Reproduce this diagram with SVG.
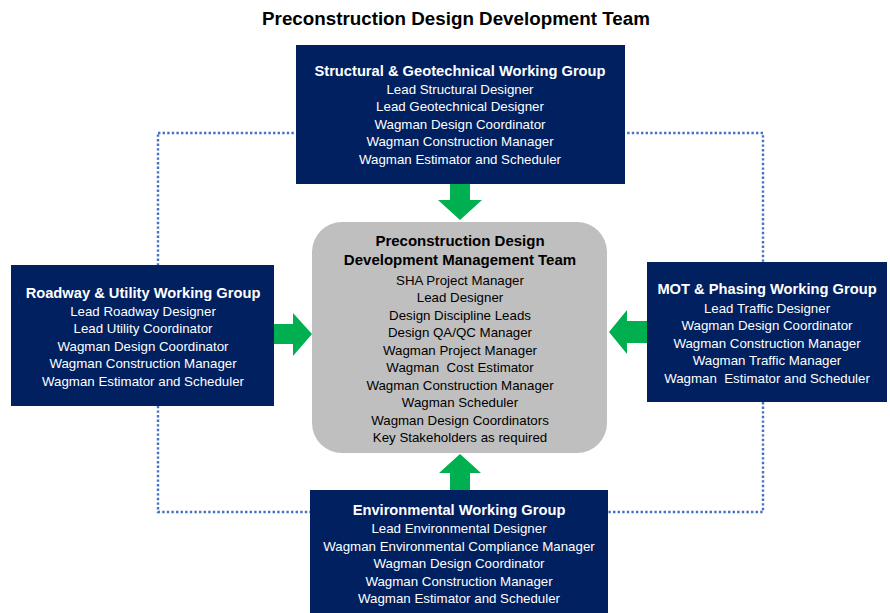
<svg xmlns="http://www.w3.org/2000/svg" width="890" height="613" viewBox="0 0 890 613">
  <style>
    .wg { fill: #002060; }
    .core { fill: #BFBFBF; }
    .arrow { fill: #00B050; }
    .loop { fill: none; stroke: #4472C4; stroke-width: 2.4; stroke-dasharray: 2.4 2.2; }
    text { font-family: "Liberation Sans", Arial, sans-serif; text-anchor: middle; }
    .h { font-weight: bold; font-size: 14.7px; fill: #FFFFFF; }
    .l { font-size: 13.3px; fill: #FFFFFF; }
    .hd { font-weight: bold; font-size: 15px; fill: #000000; }
    .ld { font-size: 13.3px; fill: #000000; }
    .title { font-weight: bold; font-size: 18.8px; fill: #000000; }
  </style>

  <text class="title" x="456" y="25">Preconstruction Design Development Team</text>

  <!-- dotted loop linking the four working groups -->
  <g id="connectors">
    <rect class="loop" x="158" y="133" width="605" height="379"/>
    <!-- flow arrows into the management team -->
    <polygon class="arrow" points="450,184 470,184 470,200 482,200 460,220 438,200 450,200"/>
    <polygon class="arrow" points="274,324 293,324 293,313 312,334 293,356 293,344 274,344"/>
    <polygon class="arrow" points="647,321 627,321 627,310 609,332 627,354 627,343 647,343"/>
    <polygon class="arrow" points="450,490 470,490 470,473 481,473 460,454 439,473 450,473"/>
  </g>

  <g id="structural">
    <rect class="wg" x="296" y="45" width="329" height="139"/>
    <text class="h" x="460" y="76">Structural &amp; Geotechnical Working Group</text>
    <text class="l" x="460" y="94">Lead Structural Designer</text>
    <text class="l" x="460" y="111">Lead Geotechnical Designer</text>
    <text class="l" x="460" y="129">Wagman Design Coordinator</text>
    <text class="l" x="460" y="146">Wagman Construction Manager</text>
    <text class="l" x="460" y="164">Wagman Estimator and Scheduler</text>
  </g>

  <g id="management">
    <rect class="core" x="312" y="222" width="295" height="231" rx="30"/>
    <text class="hd" x="460" y="246">Preconstruction Design</text>
    <text class="hd" x="460" y="265">Development Management Team</text>
    <text class="ld" x="460" y="285">SHA Project Manager</text>
    <text class="ld" x="460" y="302">Lead Designer</text>
    <text class="ld" x="460" y="320">Design Discipline Leads</text>
    <text class="ld" x="460" y="337">Design QA/QC Manager</text>
    <text class="ld" x="460" y="355">Wagman Project Manager</text>
    <text class="ld" x="460" y="372" xml:space="preserve">Wagman  Cost Estimator</text>
    <text class="ld" x="460" y="390">Wagman Construction Manager</text>
    <text class="ld" x="460" y="407">Wagman Scheduler</text>
    <text class="ld" x="460" y="425">Wagman Design Coordinators</text>
    <text class="ld" x="460" y="442">Key Stakeholders as required</text>
  </g>

  <g id="roadway">
    <rect class="wg" x="11" y="265" width="263" height="141"/>
    <text class="h" x="143" y="298">Roadway &amp; Utility Working Group</text>
    <text class="l" x="143" y="316">Lead Roadway Designer</text>
    <text class="l" x="143" y="333">Lead Utility Coordinator</text>
    <text class="l" x="143" y="351">Wagman Design Coordinator</text>
    <text class="l" x="143" y="368">Wagman Construction Manager</text>
    <text class="l" x="143" y="386">Wagman Estimator and Scheduler</text>
  </g>

  <g id="mot">
    <rect class="wg" x="647" y="262" width="240" height="140"/>
    <text class="h" x="767" y="294">MOT &amp; Phasing Working Group</text>
    <text class="l" x="767" y="313">Lead Traffic Designer</text>
    <text class="l" x="767" y="330">Wagman Design Coordinator</text>
    <text class="l" x="767" y="348">Wagman Construction Manager</text>
    <text class="l" x="767" y="365">Wagman Traffic Manager</text>
    <text class="l" x="767" y="383" xml:space="preserve">Wagman  Estimator and Scheduler</text>
  </g>

  <g id="environmental">
    <rect class="wg" x="310" y="490" width="298" height="123"/>
    <text class="h" x="459" y="515">Environmental Working Group</text>
    <text class="l" x="459" y="533">Lead Environmental Designer</text>
    <text class="l" x="459" y="551">Wagman Environmental Compliance Manager</text>
    <text class="l" x="459" y="568">Wagman Design Coordinator</text>
    <text class="l" x="459" y="586">Wagman Construction Manager</text>
    <text class="l" x="459" y="603">Wagman Estimator and Scheduler</text>
  </g>
</svg>
